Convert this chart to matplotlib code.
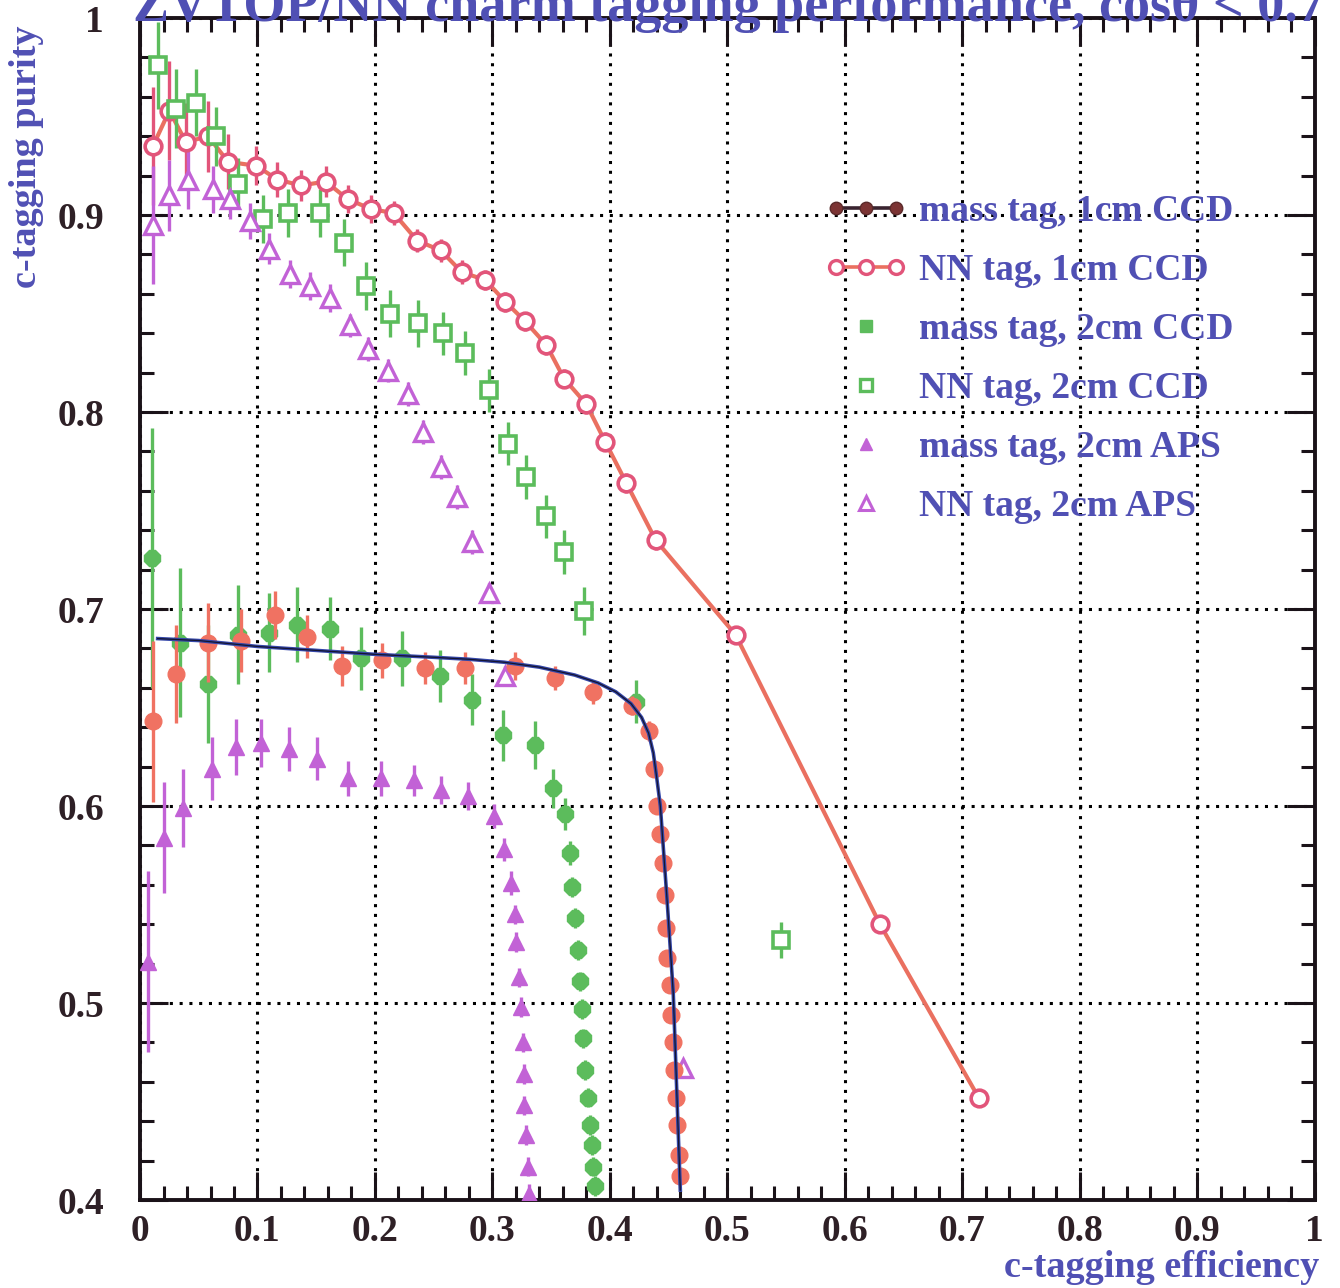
import numpy as np
import matplotlib.pyplot as plt
from matplotlib.lines import Line2D
from matplotlib.legend_handler import HandlerLine2D
from matplotlib.ticker import MultipleLocator

# ── data: c-tagging efficiency vs purity ─────────────────────────────────────
# mass tag, 1cm CCD (filled circles + fitted curve)
mass1_eff = [0.011, 0.031, 0.058, 0.086, 0.115, 0.142, 0.172, 0.206, 0.243, 0.277,
             0.319, 0.353, 0.386, 0.419, 0.433, 0.438, 0.440, 0.443, 0.445, 0.447,
             0.448, 0.449, 0.451, 0.452, 0.454, 0.455, 0.456, 0.457, 0.459, 0.460]
mass1_pur = [0.643, 0.667, 0.683, 0.684, 0.697, 0.686, 0.671, 0.674, 0.670, 0.670,
             0.671, 0.665, 0.658, 0.651, 0.638, 0.619, 0.600, 0.586, 0.571, 0.555,
             0.538, 0.523, 0.509, 0.494, 0.480, 0.466, 0.452, 0.438, 0.423, 0.412]
mass1_err = [0.041, 0.025, 0.020, 0.016, 0.012, 0.011, 0.010, 0.009, 0.008, 0.008,
             0.007, 0.006, 0.006, 0.005, 0.005, 0.004, 0.004, 0.004, 0.004, 0.004,
             0.004, 0.004, 0.004, 0.004, 0.004, 0.004, 0.004, 0.004, 0.004, 0.004]
fit1_eff = [0.015, 0.050, 0.100, 0.150, 0.200, 0.250, 0.280, 0.310, 0.340, 0.370,
            0.390, 0.405, 0.418, 0.427, 0.433, 0.437, 0.440, 0.443, 0.449, 0.454, 0.460]
fit1_pur = [0.685, 0.684, 0.681, 0.679, 0.677, 0.6755, 0.6745, 0.673, 0.6705, 0.6665,
            0.6625, 0.658, 0.652, 0.645, 0.637, 0.627, 0.614, 0.600, 0.550, 0.505, 0.405]

# NN tag, 1cm CCD (open circles joined by a line)
nn1_eff = [0.011, 0.025, 0.039, 0.058, 0.075, 0.099, 0.117, 0.137, 0.158, 0.177,
           0.197, 0.216, 0.236, 0.256, 0.274, 0.294, 0.311, 0.328, 0.346, 0.361,
           0.380, 0.396, 0.414, 0.439, 0.507, 0.630, 0.714]
nn1_pur = [0.935, 0.953, 0.937, 0.940, 0.927, 0.925, 0.918, 0.915, 0.917, 0.908,
           0.903, 0.901, 0.887, 0.882, 0.871, 0.867, 0.856, 0.846, 0.834, 0.817,
           0.804, 0.785, 0.764, 0.735, 0.687, 0.540, 0.452]
nn1_err = [0.030, 0.025, 0.020, 0.018, 0.014, 0.010, 0.009, 0.008, 0.008, 0.007,
           0.007, 0.006, 0.006, 0.006, 0.006, 0.005, 0.005, 0.005, 0.005, 0.005,
           0.005, 0.005, 0.005, 0.005, 0.004, 0.004, 0.004]

# mass tag, 2cm CCD (filled)
mass2_eff = [0.010, 0.034, 0.058, 0.083, 0.110, 0.134, 0.162, 0.188, 0.223, 0.255,
             0.283, 0.309, 0.336, 0.352, 0.362, 0.366, 0.368, 0.370, 0.373, 0.375,
             0.376, 0.377, 0.379, 0.381, 0.383, 0.385, 0.386, 0.387, 0.422]
mass2_pur = [0.726, 0.683, 0.662, 0.687, 0.688, 0.692, 0.690, 0.675, 0.675, 0.666,
             0.654, 0.636, 0.631, 0.609, 0.596, 0.576, 0.559, 0.543, 0.527, 0.511,
             0.497, 0.482, 0.466, 0.452, 0.438, 0.428, 0.417, 0.407, 0.653]
mass2_err = [0.066, 0.038, 0.030, 0.025, 0.020, 0.019, 0.016, 0.016, 0.014, 0.013,
             0.013, 0.013, 0.012, 0.010, 0.008, 0.006, 0.005, 0.005, 0.005, 0.005,
             0.005, 0.005, 0.005, 0.005, 0.005, 0.005, 0.005, 0.005, 0.011]

# NN tag, 2cm CCD (open squares)
nn2_eff = [0.015, 0.031, 0.048, 0.065, 0.083, 0.105, 0.126, 0.153, 0.174, 0.192,
           0.213, 0.237, 0.258, 0.277, 0.297, 0.313, 0.329, 0.346, 0.361, 0.378, 0.546]
nn2_pur = [0.976, 0.954, 0.957, 0.940, 0.916, 0.898, 0.901, 0.901, 0.886, 0.864,
           0.850, 0.845, 0.840, 0.830, 0.811, 0.784, 0.767, 0.747, 0.729, 0.699, 0.532]
nn2_err = [0.022, 0.020, 0.017, 0.015, 0.013, 0.012, 0.012, 0.012, 0.012, 0.012,
           0.012, 0.012, 0.011, 0.011, 0.011, 0.011, 0.011, 0.011, 0.011, 0.012, 0.009]

# mass tag, 2cm APS (filled triangles)
mass_aps_eff = [0.007, 0.020, 0.037, 0.061, 0.082, 0.103, 0.127, 0.151, 0.177, 0.205,
                0.233, 0.256, 0.279, 0.301, 0.310, 0.316, 0.319, 0.320, 0.323, 0.324,
                0.326, 0.327, 0.327, 0.329, 0.330, 0.331]
mass_aps_pur = [0.521, 0.584, 0.599, 0.619, 0.630, 0.632, 0.629, 0.624, 0.614, 0.614,
                0.613, 0.608, 0.605, 0.595, 0.578, 0.561, 0.545, 0.531, 0.513, 0.498,
                0.480, 0.464, 0.448, 0.433, 0.417, 0.403]
mass_aps_err = [0.046, 0.028, 0.020, 0.016, 0.014, 0.012, 0.011, 0.011, 0.009, 0.009,
                0.008, 0.007, 0.007, 0.006, 0.006, 0.006, 0.005, 0.005, 0.005, 0.005,
                0.005, 0.005, 0.005, 0.005, 0.005, 0.005]

# NN tag, 2cm APS (open triangles)
nn_aps_eff = [0.011, 0.025, 0.041, 0.062, 0.077, 0.094, 0.110, 0.128, 0.145, 0.162,
              0.179, 0.194, 0.211, 0.228, 0.241, 0.256, 0.270, 0.283, 0.297, 0.311, 0.462]
nn_aps_pur = [0.895, 0.910, 0.918, 0.913, 0.908, 0.897, 0.883, 0.870, 0.864, 0.858,
              0.844, 0.832, 0.821, 0.809, 0.790, 0.772, 0.757, 0.734, 0.708, 0.666, 0.467]
nn_aps_err = [0.030, 0.018, 0.015, 0.012, 0.010, 0.009, 0.008, 0.007, 0.007, 0.007,
              0.006, 0.006, 0.006, 0.006, 0.006, 0.006, 0.006, 0.006, 0.005, 0.005, 0.004]

x_ticks = [0, 0.1, 0.2, 0.3, 0.4, 0.5, 0.6, 0.7, 0.8, 0.9, 1.0]
x_ticklabels = ["0", "0.1", "0.2", "0.3", "0.4", "0.5", "0.6", "0.7", "0.8", "0.9", "1"]
y_ticks = [0.4, 0.5, 0.6, 0.7, 0.8, 0.9, 1.0]
y_ticklabels = ["0.4", "0.5", "0.6", "0.7", "0.8", "0.9", "1"]

labels = ["mass tag, 1cm CCD", "NN tag, 1cm CCD", "mass tag, 2cm CCD",
          "NN tag, 2cm CCD", "mass tag, 2cm APS", "NN tag, 2cm APS"]

# ── colours / fonts ──────────────────────────────────────────────────────────
RED_FILL = "#f07262"
RED_OPEN = "#e2557a"
RED_LINE = "#ea7060"
FIT_BLUE = "#3446a8"
GREEN = "#5cbc5c"
VIOLET = "#c262d6"
TEXT_BLUE = "#5050b4"
TICK_DARK = "#2e2026"
SERIF = ["Liberation Serif", "DejaVu Serif"]

plt.rcParams["font.family"] = SERIF
plt.rcParams["font.weight"] = "bold"


class EndMarkerHandler(HandlerLine2D):
    """Single legend marker drawn at the right end of the handle box."""
    def get_xdata(self, legend, xdescent, ydescent, width, height, fontsize):
        xdata = np.array([-xdescent, -xdescent + width])
        return xdata, np.array([-xdescent + 0.96 * width])


fig = plt.figure(figsize=(13.4, 12.88), dpi=100)
ax = fig.add_axes([0.1045, 0.0683, 0.8765, 0.9177])

ax.set_xlim(0, 1)
ax.set_ylim(0.4, 1)

# dotted grid at the major ticks
ax.grid(True, which="major", color="black", linestyle=(0, (1, 2.2)), linewidth=2.2)
ax.set_axisbelow(True)

err_kw = dict(capsize=0, elinewidth=2.4, linestyle="none")

# NN tag, 1cm CCD
ax.plot(nn1_eff, nn1_pur, color=RED_LINE, lw=3.0, zorder=3, solid_capstyle="round")
ax.errorbar(nn1_eff, nn1_pur, yerr=nn1_err, marker="o", ms=12, mfc="white",
            mec=RED_OPEN, mew=2.6, ecolor=RED_OPEN, zorder=4, **err_kw)

# NN tag, 2cm CCD
ax.errorbar(nn2_eff, nn2_pur, yerr=nn2_err, marker="s", ms=11, mfc="white",
            mec=GREEN, mew=2.6, ecolor=GREEN, zorder=4, **err_kw)

# NN tag, 2cm APS
ax.errorbar(nn_aps_eff, nn_aps_pur, yerr=nn_aps_err, marker="^", ms=13, mfc="white",
            mec=VIOLET, mew=2.4, ecolor=VIOLET, zorder=4, **err_kw)

# mass tag, 2cm APS
ax.errorbar(mass_aps_eff, mass_aps_pur, yerr=mass_aps_err, marker="^", ms=12,
            mfc=VIOLET, mec=VIOLET, ecolor=VIOLET, zorder=4, **err_kw)

# mass tag, 2cm CCD
ax.errorbar(mass2_eff, mass2_pur, yerr=mass2_err, marker="8", ms=12,
            mfc=GREEN, mec=GREEN, ecolor=GREEN, zorder=4, **err_kw)

# mass tag, 1cm CCD + fit
ax.errorbar(mass1_eff, mass1_pur, yerr=mass1_err, marker="o", ms=12,
            mfc=RED_FILL, mec=RED_FILL, ecolor=RED_FILL, zorder=5, **err_kw)
ax.plot(fit1_eff, fit1_pur, color=FIT_BLUE, lw=2.6, zorder=6)
ax.plot(fit1_eff, fit1_pur, color="#151530", lw=0.9, zorder=6)

# ── axes styling ─────────────────────────────────────────────────────────────
for sp in ax.spines.values():
    sp.set_linewidth(2.8)
    sp.set_color("#1a1218")

ax.set_xticks(x_ticks)
ax.set_xticklabels(x_ticklabels)
ax.set_yticks(y_ticks)
ax.set_yticklabels(y_ticklabels)
ax.xaxis.set_minor_locator(MultipleLocator(0.02))
ax.yaxis.set_minor_locator(MultipleLocator(0.02))
ax.tick_params(which="both", direction="in", top=True, right=True,
               color="#1a1218", width=2.2)
ax.tick_params(which="major", length=20, labelsize=27, labelcolor=TICK_DARK)
ax.tick_params(which="minor", length=10)
ax.tick_params(axis="x", which="major", pad=10)
ax.tick_params(axis="y", which="major", pad=26)
for lbl in ax.get_xticklabels() + ax.get_yticklabels():
    lbl.set_fontweight("bold")

ax.set_xlabel("c-tagging efficiency", loc="right", fontsize=27.5, color=TEXT_BLUE,
              fontweight="bold")
ax.xaxis.set_label_coords(1.004, -0.042)
ax.set_ylabel("c-tagging purity", loc="top", fontsize=27.5, color=TEXT_BLUE,
              fontweight="bold")
ax.yaxis.set_label_coords(-0.082, 0.994)

fig.text(0.099, 0.9835, "ZVTOP/NN charm tagging performance, cos\u03b8 < 0.7",
         fontsize=39, fontweight="bold", color=TEXT_BLUE, ha="left", va="baseline")

# ── legend ───────────────────────────────────────────────────────────────────
h_mass1 = Line2D([], [], color="#3a2430", lw=2.6, marker="o", ms=9,
                 mfc="#7c3434", mec="#5a2a2a")
h_nn1 = Line2D([], [], color=RED_LINE, lw=2.6, marker="o", ms=10,
               mfc="white", mec=RED_OPEN, mew=2.4)
h_mass2 = Line2D([], [], ls="none", marker="s", ms=8, mfc=GREEN, mec=GREEN)
h_nn2 = Line2D([], [], ls="none", marker="s", ms=9, mfc="white", mec=GREEN, mew=2.4)
h_mass_aps = Line2D([], [], ls="none", marker="^", ms=9, mfc=VIOLET, mec=VIOLET)
h_nn_aps = Line2D([], [], ls="none", marker="^", ms=10, mfc="white", mec=VIOLET, mew=2.2)

handles = [h_mass1, h_nn1, h_mass2, h_nn2, h_mass_aps, h_nn_aps]
hmap = {h_mass1: HandlerLine2D(numpoints=3), h_nn1: HandlerLine2D(numpoints=3)}
for h in (h_mass2, h_nn2, h_mass_aps, h_nn_aps):
    hmap[h] = EndMarkerHandler(numpoints=1)

leg = ax.legend(handles, labels, handler_map=hmap, loc="upper left",
                bbox_to_anchor=(0.583, 0.851), frameon=False, borderpad=0,
                borderaxespad=0, handlelength=2.2, handletextpad=0.3,
                labelspacing=0.64, prop={"family": SERIF, "weight": "bold", "size": 27})
for t in leg.get_texts():
    t.set_color(TEXT_BLUE)

fig.savefig("out.png", dpi=100)
